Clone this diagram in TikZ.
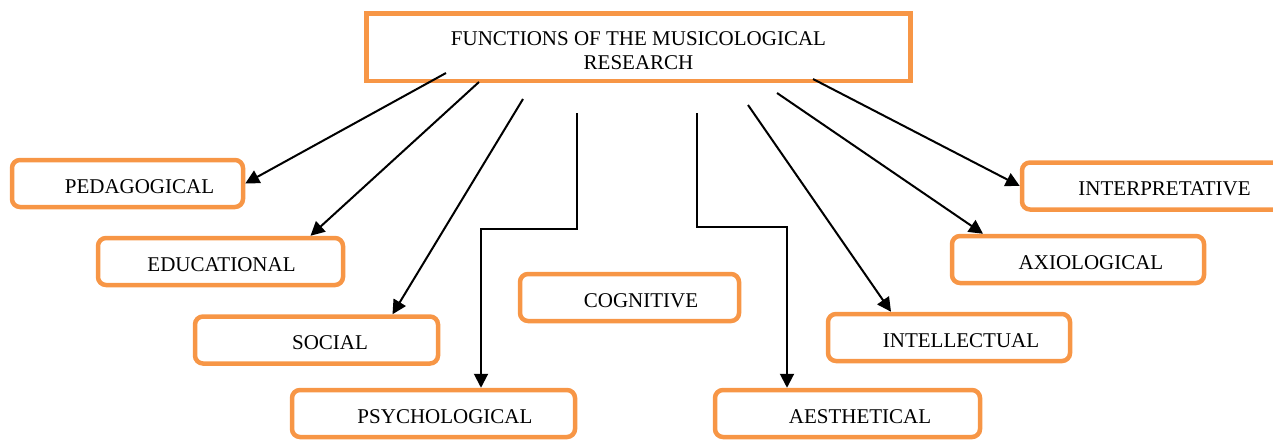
\documentclass[tikz,border=0pt]{standalone}
\usepackage{fontspec}
\setmainfont{Liberation Serif}
\usetikzlibrary{arrows.meta,calc}
\definecolor{orangeline}{HTML}{F79646}

\begin{document}
\begin{tikzpicture}[x=1pt,y=-1pt,
  fbox/.style={draw=orangeline,line width=4.5pt,rounded corners=8pt,
    minimum height=47pt,inner sep=0pt,font=\fontsize{21}{24}\selectfont,
    text height=19pt,text depth=0pt,
    execute at begin node={\hspace*{#1}}},
  fbox/.default=24pt,
  arr/.style={line width=2pt,-{Triangle[length=14pt,width=14pt]}}]

% Marco de la figura
\useasboundingbox (0,0) rectangle (1273,439);
\clip (0,0) rectangle (1273,439);

% Recuadro principal
\node[draw=orangeline,line width=4.5pt,minimum width=544pt,minimum height=67.5pt,
  inner sep=0pt,align=center,font=\fontsize{21}{24}\selectfont,
  text height=44pt,text depth=0pt]
  (top) at (638.5,47.25) {FUNCTIONS OF THE MUSICOLOGICAL\\RESEARCH};

% Funciones
\node[fbox,minimum width=231pt] (ped)    at (127.5,183.5) {PEDAGOGICAL};
\node[fbox=2pt,minimum width=245pt] (edu) at (220.5,261.5) {EDUCATIONAL};
\node[fbox=27pt,minimum width=243pt] (soc) at (316.5,340) {SOCIAL};
\node[fbox=23pt,minimum width=283pt] (psych) at (433.5,413.5) {PSYCHOLOGICAL};
\node[fbox=23pt,minimum width=219pt] (cog) at (629.5,297.5) {COGNITIVE};
\node[fbox=25pt,minimum width=265pt] (aesth) at (847.5,413.5) {AESTHETICAL};
\node[fbox,minimum width=242pt] (intel)  at (949,337.5)   {INTELLECTUAL};
\node[fbox=26pt,minimum width=252pt] (axio) at (1078,259.5) {AXIOLOGICAL};
\node[fbox,minimum width=261pt] (interp) at (1152.5,186)  {INTERPRETATIVE};

% Inicios de las flechas
\coordinate (s1) at (446,73);
\coordinate (s2) at (479,82);
\coordinate (s3) at (523,99);
\coordinate (s4) at (577,113);
\coordinate (b4) at (481,229);
\coordinate (s5) at (697,113);
\coordinate (b5) at (787,227);
\coordinate (s6) at (748,105);
\coordinate (s7) at (777,93);
\coordinate (s8) at (813,79);

% Flechas
\draw[arr] (s1) -- (ped.east);
\draw[arr] (s2) -- ($(edu.north)+(90,0)$);
\draw[arr] (s3) -- ($(soc.north)+(76,0)$);
\draw[arr] (s4) |- (b4) -- (b4 |- psych.north);
\draw[arr] (s5) |- (b5) -- (b5 |- aesth.north);
\draw[arr] (s6) -- ($(intel.north)+(-58,0)$);
\draw[arr] (s7) -- ($(axio.north)+(-95,0)$);
\draw[arr] (s8) -- (interp.west);
\end{tikzpicture}
\end{document}
